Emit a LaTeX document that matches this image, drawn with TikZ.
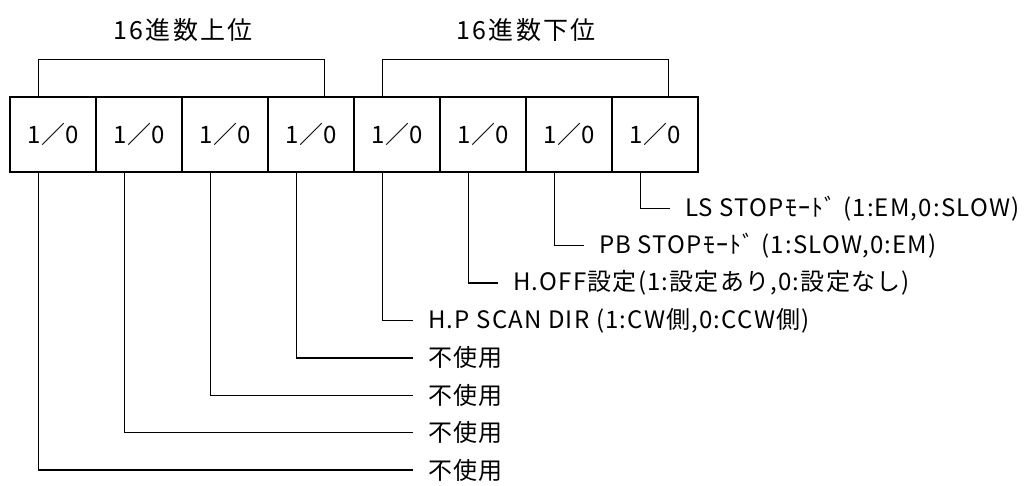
\documentclass[tikz,border=0pt]{standalone}
\usepackage{fontspec}
\setmainfont{Noto Sans CJK JP}
\newfontfamily\labelfont[LetterSpace=5]{Noto Sans CJK JP}
\newfontfamily\titlefont[LetterSpace=9]{Noto Sans CJK JP}
\usetikzlibrary{positioning}
\tikzset{
  % bit register
  bitbox/.style    = { draw, line width=1.4pt, minimum width=86pt, minimum height=75pt,
                        inner sep=0, font=\fontsize{24}{28}\selectfont },
  grouptitle/.style= { inner sep=0, font=\titlefont\fontsize{25}{30}\selectfont },
  bitlabel/.style  = { anchor=west, inner sep=0, font=\labelfont\fontsize{24}{28}\selectfont },
  bitline/.style   = { line width=1.4pt },
  bracketline/.style = { line width=1.4pt }
}

\begin{document}
\begin{tikzpicture}[x=1pt, y=-1pt]
  \useasboundingbox (0,0) rectangle (1028,485);

  \node[grouptitle] (upper) at (183,30) {16進数上位};
  \node[grouptitle] (lower) at (526,30) {16進数下位};

  \foreach \i in {0,...,7}
    \node[bitbox] (b\i) at ({53+86*\i},134.5) {1／0};

  % --- group brackets ---------------------------------------------
  \draw[bracketline] ([xshift=29pt]b0.north west) -- ++(0,-37) -| ([xshift=57pt]b3.north west);
  \draw[bracketline] ([xshift=29pt]b4.north west) -- ++(0,-37) -| ([xshift=57pt]b7.north west);

  % --- bit descriptions -------------------------------------------
  \foreach \i in {0,...,3}
    \node[bitlabel] (l\i) at (428,{470-37.4*\i}) {不使用};
  \node[bitlabel] (l4) at (428,320.4) {H.P SCAN DIR (1:CW側,0:CCW側)};
  \node[bitlabel] (l5) at (513,283)   {H.OFF設定(1:設定あり,0:設定なし)};
  \node[bitlabel] (l6) at (599,245.6) {PB STOPﾓｰﾄﾞ (1:SLOW,0:EM)};
  \node[bitlabel] (l7) at (685,208.2) {LS STOPﾓｰﾄﾞ (1:EM,0:SLOW)};

  \foreach \i in {0,...,7}
    \draw[bitline] ([xshift=29pt]b\i.south west) |- ([xshift=-15pt]l\i.west);

\end{tikzpicture}
\end{document}
